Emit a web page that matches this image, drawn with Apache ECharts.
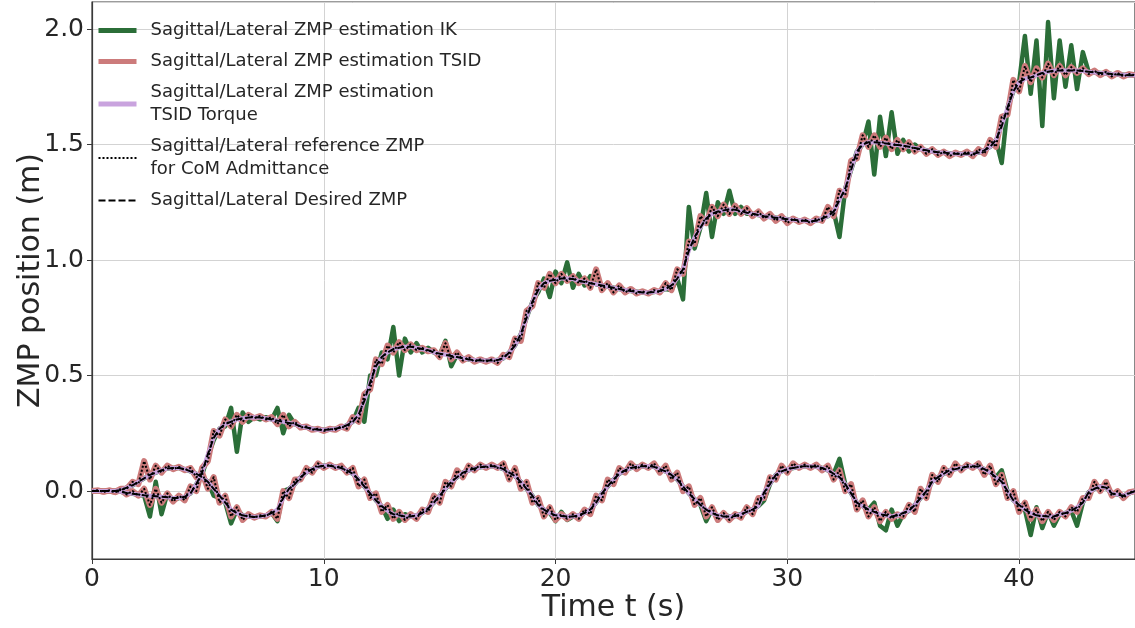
<!DOCTYPE html>
<html>
<head>
<meta charset="utf-8">
<script src="https://cdn.jsdelivr.net/npm/echarts@6/dist/echarts.min.js"></script>
<style>html,body{margin:0;padding:0;background:#fff;}#c{width:1135px;height:628px;}</style>
</head>
<body>
<div id="c"></div>
<script>
// Time samples (s)
const T = [0,0.25,0.5,0.75,1,1.25,1.5,1.75,2,2.25,2.5,2.75,3,3.25,3.5,3.75,4,4.25,4.5,4.75,5,5.25,5.5,5.75,6,6.25,6.5,6.75,7,7.25,7.5,7.75,8,8.25,8.5,8.75,9,9.25,9.5,9.75,10,10.25,10.5,10.75,11,11.25,11.5,11.75,12,12.25,12.5,12.75,13,13.25,13.5,13.75,14,14.25,14.5,14.75,15,15.25,15.5,15.75,16,16.25,16.5,16.75,17,17.25,17.5,17.75,18,18.25,18.5,18.75,19,19.25,19.5,19.75,20,20.25,20.5,20.75,21,21.25,21.5,21.75,22,22.25,22.5,22.75,23,23.25,23.5,23.75,24,24.25,24.5,24.75,25,25.25,25.5,25.75,26,26.25,26.5,26.75,27,27.25,27.5,27.75,28,28.25,28.5,28.75,29,29.25,29.5,29.75,30,30.25,30.5,30.75,31,31.25,31.5,31.75,32,32.25,32.5,32.75,33,33.25,33.5,33.75,34,34.25,34.5,34.75,35,35.25,35.5,35.75,36,36.25,36.5,36.75,37,37.25,37.5,37.75,38,38.25,38.5,38.75,39,39.25,39.5,39.75,40,40.25,40.5,40.75,41,41.25,41.5,41.75,42,42.25,42.5,42.75,43,43.25,43.5,43.75,44,44.25,44.5,44.75,45];

// Sagittal desired ZMP (m)
const sagDesired = [
0,0,0,0,
0,-0.003,-0.008,-0.012,
-0.015,-0.018,-0.02,-0.022,
-0.025,-0.027,-0.03,-0.03,
-0.025,-0.01,0.03,0.08,
0.16,0.23,0.27,0.29,
0.3,0.31,0.315,0.318,
0.32,0.318,0.315,0.31,
0.305,0.3,0.295,0.29,
0.28,0.275,0.27,0.265,
0.265,0.267,0.27,0.275,
0.285,0.3,0.33,0.39,
0.47,0.54,0.58,0.6,
0.615,0.62,0.625,0.625,
0.62,0.615,0.61,0.6,
0.595,0.59,0.585,0.58,
0.575,0.57,0.567,0.565,
0.565,0.565,0.567,0.575,
0.6,0.63,0.68,0.75,
0.82,0.87,0.9,0.91,
0.915,0.92,0.92,0.918,
0.91,0.905,0.9,0.895,
0.89,0.885,0.88,0.875,
0.87,0.866,0.863,0.86,
0.86,0.862,0.866,0.875,
0.89,0.92,0.96,1.04,
1.1,1.14,1.18,1.2,
1.21,1.215,1.22,1.218,
1.212,1.205,1.2,1.195,
1.19,1.186,1.183,1.18,
1.177,1.174,1.172,1.17,
1.168,1.17,1.18,1.19,
1.21,1.26,1.31,1.39,
1.47,1.5,1.51,1.51,
1.508,1.505,1.5,1.498,
1.495,1.49,1.485,1.48,
1.475,1.47,1.467,1.465,
1.462,1.46,1.46,1.46,
1.46,1.465,1.475,1.49,
1.52,1.58,1.66,1.73,
1.77,1.785,1.79,1.8,
1.81,1.815,1.82,1.82,
1.82,1.82,1.82,1.818,
1.815,1.812,1.81,1.808,
1.805,1.803,1.802,1.8,
1.8];

// Lateral desired ZMP (m)
const latDesired = [
0,0,0,0,
0,0.005,0.015,0.025,
0.04,0.055,0.07,0.08,
0.09,0.098,0.1,0.1,
0.095,0.085,0.075,0.06,
0.04,0.01,-0.02,-0.05,
-0.08,-0.095,-0.105,-0.11,
-0.112,-0.11,-0.105,-0.095,
-0.08,-0.03,0.01,0.03,
0.06,0.08,0.095,0.105,
0.11,0.11,0.105,0.1,
0.09,0.075,0.05,0.02,
-0.01,-0.04,-0.065,-0.085,
-0.1,-0.105,-0.11,-0.11,
-0.105,-0.095,-0.075,-0.05,
-0.02,0.01,0.04,0.06,
0.08,0.09,0.098,0.103,
0.106,0.108,0.105,0.095,
0.08,0.065,0.04,0.01,
-0.02,-0.06,-0.08,-0.095,
-0.105,-0.108,-0.11,-0.11,
-0.105,-0.095,-0.08,-0.05,
-0.01,0.02,0.05,0.075,
0.09,0.1,0.105,0.108,
0.108,0.105,0.095,0.085,
0.07,0.05,0.02,-0.01,
-0.035,-0.06,-0.08,-0.095,
-0.105,-0.11,-0.11,-0.108,
-0.1,-0.09,-0.08,-0.065,
-0.005,0.03,0.07,0.085,
0.095,0.1,0.105,0.108,
0.108,0.105,0.1,0.09,
0.075,0.06,0.03,-0.01,
-0.05,-0.065,-0.08,-0.09,
-0.1,-0.105,-0.11,-0.105,
-0.095,-0.085,-0.06,-0.03,
0.0,0.04,0.06,0.075,
0.09,0.095,0.1,0.105,
0.108,0.105,0.095,0.08,
0.06,0.04,0.0,-0.04,
-0.06,-0.08,-0.095,-0.105,
-0.108,-0.11,-0.11,-0.1,
-0.095,-0.085,-0.07,-0.05,
-0.005,0.01,0.02,0.015,
-0.01,-0.015,-0.02,-0.01,
0.0];

// Sagittal ZMP estimation TSID (m)
const sagTSID = [
0,0.003,-0.003,0.002,
-0.005,0.005,-0.015,0.0,
-0.02,0.01,-0.06,0.01,
-0.05,-0.01,-0.045,-0.02,
-0.04,0.02,0.0,0.1,
0.13,0.26,0.24,0.31,
0.28,0.33,0.3,0.33,
0.315,0.325,0.31,0.32,
0.29,0.33,0.28,0.3,
0.275,0.28,0.265,0.27,
0.26,0.27,0.265,0.28,
0.27,0.32,0.3,0.42,
0.44,0.57,0.55,0.63,
0.6,0.645,0.61,0.635,
0.61,0.62,0.605,0.61,
0.58,0.64,0.57,0.6,
0.565,0.58,0.56,0.57,
0.56,0.57,0.555,0.59,
0.58,0.66,0.65,0.78,
0.8,0.9,0.88,0.94,
0.9,0.94,0.91,0.93,
0.9,0.92,0.88,0.96,
0.87,0.9,0.86,0.89,
0.86,0.875,0.855,0.865,
0.855,0.87,0.86,0.9,
0.87,0.96,0.94,1.08,
1.07,1.19,1.16,1.23,
1.19,1.24,1.2,1.235,
1.2,1.225,1.19,1.21,
1.18,1.2,1.17,1.19,
1.16,1.18,1.165,1.175,
1.16,1.18,1.17,1.23,
1.19,1.3,1.28,1.43,
1.44,1.54,1.49,1.54,
1.49,1.53,1.48,1.52,
1.48,1.51,1.47,1.49,
1.46,1.48,1.455,1.47,
1.45,1.465,1.455,1.47,
1.45,1.48,1.46,1.52,
1.49,1.62,1.63,1.78,
1.73,1.84,1.77,1.83,
1.79,1.85,1.8,1.84,
1.8,1.835,1.81,1.83,
1.805,1.82,1.8,1.815,
1.795,1.81,1.795,1.805,
1.8];

// Lateral ZMP estimation TSID (m)
const latTSID = [
0,0.002,-0.002,0.003,
-0.003,0.01,0.01,0.04,
0.03,0.13,0.05,0.11,
0.08,0.11,0.095,0.105,
0.09,0.1,0.06,0.08,
0.01,0.06,-0.05,-0.02,
-0.11,-0.07,-0.125,-0.1,
-0.115,-0.105,-0.11,-0.09,
-0.12,0.0,-0.03,0.05,
0.05,0.1,0.08,0.12,
0.1,0.115,0.1,0.11,
0.08,0.1,0.02,0.05,
-0.03,-0.01,-0.09,-0.06,
-0.12,-0.09,-0.125,-0.1,
-0.12,-0.08,-0.09,-0.02,
-0.05,0.04,0.02,0.09,
0.06,0.11,0.09,0.115,
0.1,0.115,0.1,0.12,
0.05,0.1,0.01,0.04,
-0.05,-0.03,-0.11,-0.07,
-0.125,-0.1,-0.12,-0.1,
-0.12,-0.08,-0.1,-0.02,
-0.04,0.05,0.03,0.1,
0.08,0.12,0.095,0.115,
0.1,0.12,0.08,0.11,
0.05,0.08,0.0,0.02,
-0.06,-0.03,-0.11,-0.07,
-0.125,-0.095,-0.125,-0.1,
-0.115,-0.07,-0.1,-0.03,
-0.03,0.06,0.05,0.11,
0.08,0.12,0.1,0.115,
0.1,0.115,0.09,0.11,
0.05,0.09,0.0,0.03,
-0.08,-0.04,-0.11,-0.07,
-0.13,-0.09,-0.12,-0.1,
-0.11,-0.06,-0.09,0.01,
-0.03,0.07,0.04,0.1,
0.07,0.12,0.09,0.115,
0.1,0.12,0.07,0.11,
0.03,0.07,-0.03,0.0,
-0.09,-0.05,-0.12,-0.08,
-0.13,-0.09,-0.125,-0.09,
-0.11,-0.07,-0.09,-0.03,
-0.03,0.04,0.0,0.04,
-0.02,0.0,-0.03,-0.005,
0.0];

// Sagittal ZMP estimation IK (m)
const sagIK = [
0,0,0,0,
0,-0.003,-0.008,-0.012,
-0.015,-0.02,-0.11,0.04,
-0.1,-0.01,-0.04,-0.03,
-0.025,-0.01,0.03,0.07,
0.15,0.22,0.27,0.28,
0.36,0.17,0.34,0.3,
0.32,0.31,0.32,0.31,
0.36,0.25,0.33,0.29,
0.28,0.275,0.27,0.265,
0.265,0.267,0.27,0.275,
0.285,0.3,0.36,0.3,
0.5,0.5,0.6,0.57,
0.71,0.5,0.66,0.6,
0.64,0.6,0.62,0.6,
0.59,0.65,0.54,0.59,
0.575,0.57,0.567,0.565,
0.565,0.565,0.567,0.575,
0.6,0.63,0.68,0.75,
0.82,0.86,0.92,0.84,
0.95,0.9,0.99,0.88,
0.94,0.89,0.93,0.895,
0.89,0.885,0.88,0.875,
0.87,0.866,0.863,0.86,
0.86,0.862,0.866,0.875,
0.87,0.92,0.83,1.23,
1.05,1.14,1.29,1.1,
1.25,1.2,1.3,1.2,
1.23,1.2,1.2,1.195,
1.19,1.186,1.183,1.18,
1.177,1.174,1.172,1.17,
1.168,1.17,1.18,1.19,
1.21,1.1,1.31,1.39,
1.47,1.5,1.6,1.37,
1.62,1.45,1.64,1.46,
1.52,1.47,1.5,1.48,
1.475,1.47,1.467,1.465,
1.462,1.46,1.46,1.46,
1.46,1.465,1.475,1.49,
1.52,1.42,1.66,1.73,
1.77,1.97,1.72,1.95,
1.58,2.03,1.7,1.95,
1.75,1.93,1.74,1.9,
1.815,1.812,1.81,1.808,
1.805,1.803,1.802,1.8,
1.8];

// Lateral ZMP estimation IK (m)
const latIK = [
0,0,0,0,
0,0.005,0.015,0.025,
0.04,0.055,0.07,0.08,
0.09,0.098,0.1,0.1,
0.095,0.085,0.075,0.06,
0.04,-0.02,-0.03,-0.05,
-0.14,-0.08,-0.105,-0.11,
-0.112,-0.11,-0.105,-0.095,
-0.13,0.0,0.01,0.03,
0.06,0.08,0.095,0.105,
0.11,0.11,0.105,0.1,
0.09,0.075,0.05,0.02,
-0.01,-0.04,-0.065,-0.12,
-0.08,-0.13,-0.1,-0.11,
-0.105,-0.095,-0.075,-0.05,
-0.02,0.01,0.04,0.06,
0.08,0.09,0.098,0.103,
0.106,0.108,0.105,0.095,
0.08,0.065,0.04,0.01,
-0.02,-0.06,-0.08,-0.095,
-0.13,-0.09,-0.125,-0.11,
-0.105,-0.095,-0.08,-0.05,
-0.01,0.02,0.05,0.075,
0.09,0.1,0.105,0.108,
0.108,0.105,0.095,0.085,
0.07,0.05,0.02,-0.01,
-0.035,-0.06,-0.13,-0.08,
-0.12,-0.1,-0.11,-0.108,
-0.1,-0.09,-0.08,-0.065,
-0.04,0.03,0.07,0.085,
0.095,0.1,0.105,0.108,
0.108,0.105,0.1,0.09,
0.075,0.14,0.03,-0.01,
-0.05,-0.065,-0.08,-0.05,
-0.15,-0.17,-0.08,-0.15,
-0.1,-0.085,-0.06,-0.03,
0.0,0.04,0.06,0.075,
0.09,0.095,0.1,0.105,
0.108,0.105,0.095,0.08,
0.06,0.09,0.0,-0.04,
-0.06,-0.08,-0.19,-0.07,
-0.16,-0.09,-0.15,-0.1,
-0.095,-0.085,-0.15,-0.05,
-0.005,0.01,0.02,0.015,
-0.01,-0.015,-0.02,-0.01,
0.0];

const X_TICKS = [0, 10, 20, 30, 40];
const Y_TICKS = [0.0, 0.5, 1.0, 1.5, 2.0];

const NAME_IK = 'Sagittal/Lateral ZMP estimation IK';
const NAME_TSID = 'Sagittal/Lateral ZMP estimation TSID';
const NAME_TQ = 'Sagittal/Lateral ZMP estimation TSID Torque';
const NAME_REF = 'Sagittal/Lateral reference ZMP for CoM Admittance';
const NAME_DES = 'Sagittal/Lateral Desired ZMP';
const LEGEND_TEXT = {};
LEGEND_TEXT[NAME_IK] = 'Sagittal/Lateral ZMP estimation IK';
LEGEND_TEXT[NAME_TSID] = 'Sagittal/Lateral ZMP estimation TSID';
LEGEND_TEXT[NAME_TQ] = 'Sagittal/Lateral ZMP estimation\nTSID Torque';
LEGEND_TEXT[NAME_REF] = 'Sagittal/Lateral reference ZMP\nfor CoM Admittance';
LEGEND_TEXT[NAME_DES] = 'Sagittal/Lateral Desired ZMP';

function pairs(vals) { return T.map((t, i) => [t, vals[i]]); }

function line(name, vals, color, width, type) {
  return {
    name: name, type: 'line', data: pairs(vals), symbol: 'none', showSymbol: false,
    smooth: false, silent: true,
    lineStyle: { color: color, width: width, type: type || 'solid', cap: 'butt', join: 'round' },
    itemStyle: { color: color }
  };
}

const GREEN = '#2b6e38', SALMON = '#cc7b7b', LILAC = '#c9a3de';

const chart = echarts.init(document.getElementById('c'), null, { renderer: 'canvas' });
chart.setOption({
  animation: false,
  backgroundColor: '#ffffff',
  textStyle: { fontFamily: 'DejaVu Sans' },
  grid: { left: 92, right: 0, top: 2, bottom: 69, show: true, borderColor: '#3a3a3a', borderWidth: 1.2,
    backgroundColor: 'transparent', containLabel: false, outerBoundsMode: 'none' },
  legend: {
    orient: 'vertical', left: 96, top: 19, padding: 0, itemGap: 8,
    itemWidth: 38, itemHeight: 14,
    itemStyle: { opacity: 0 },
    data: [
      { name: NAME_IK, lineStyle: { width: 5 } },
      { name: NAME_TSID, lineStyle: { width: 5 } },
      { name: NAME_TQ, lineStyle: { width: 5 } },
      { name: NAME_REF, lineStyle: { width: 2 } },
      { name: NAME_DES, lineStyle: { width: 2 } }
    ],
    formatter: n => LEGEND_TEXT[n],
    textStyle: { fontSize: 18, lineHeight: 23, color: '#262626', fontFamily: 'DejaVu Sans', padding: [0, 0, 0, 9] }
  },
  xAxis: {
    type: 'value', min: 0, max: 45, interval: 10,
    name: 'Time t (s)', nameLocation: 'middle', nameGap: 34, nameMoveOverlap: false,
    nameTextStyle: { fontSize: 30, color: '#262626', fontFamily: 'DejaVu Sans' },
    axisLine: { show: true, onZero: false, lineStyle: { color: '#3a3a3a', width: 1.2 } },
    axisTick: { show: true, inside: false, length: 5, lineStyle: { color: '#3a3a3a' } },
    axisLabel: { fontSize: 25, color: '#262626', margin: 8, showMaxLabel: false,
      formatter: v => X_TICKS.indexOf(v) >= 0 ? String(v) : '' },
    splitLine: { show: true, lineStyle: { color: '#d3d3d3', width: 1 } }
  },
  yAxis: {
    type: 'value', min: -0.294, max: 2.117, splitNumber: 5,
    name: 'ZMP position (m)', nameLocation: 'middle', nameGap: 46, nameMoveOverlap: false,
    nameTextStyle: { fontSize: 30, color: '#262626', fontFamily: 'DejaVu Sans' },
    axisLine: { show: true, onZero: false, lineStyle: { color: '#3a3a3a', width: 1.2 } },
    axisTick: { show: true, inside: false, length: 5, lineStyle: { color: '#3a3a3a' } },
    axisLabel: { fontSize: 25, color: '#262626', margin: 8, showMinLabel: false, showMaxLabel: false,
      formatter: v => { const r = Math.round(v * 10) / 10; return Y_TICKS.some(y => Math.abs(y - v) < 1e-6) ? r.toFixed(1) : ''; } },
    splitLine: { show: true, lineStyle: { color: '#d3d3d3', width: 1 } }
  },
  series: [
    line(NAME_IK, sagIK, GREEN, 4.5),
    line(NAME_IK, latIK, GREEN, 4.5),
    line(NAME_TSID, sagTSID, SALMON, 6),
    line(NAME_TSID, latTSID, SALMON, 6),
    line(NAME_TQ, sagDesired, LILAC, 4),
    line(NAME_TQ, latDesired, LILAC, 4),
    line(NAME_REF, sagTSID, '#000000', 2, [2, 2]),
    line(NAME_REF, latTSID, '#000000', 2, [2, 2]),
    line(NAME_DES, sagDesired, '#000000', 2, [7, 3]),
    line(NAME_DES, latDesired, '#000000', 2, [7, 3])
  ]
});
</script>
</body>
</html>
